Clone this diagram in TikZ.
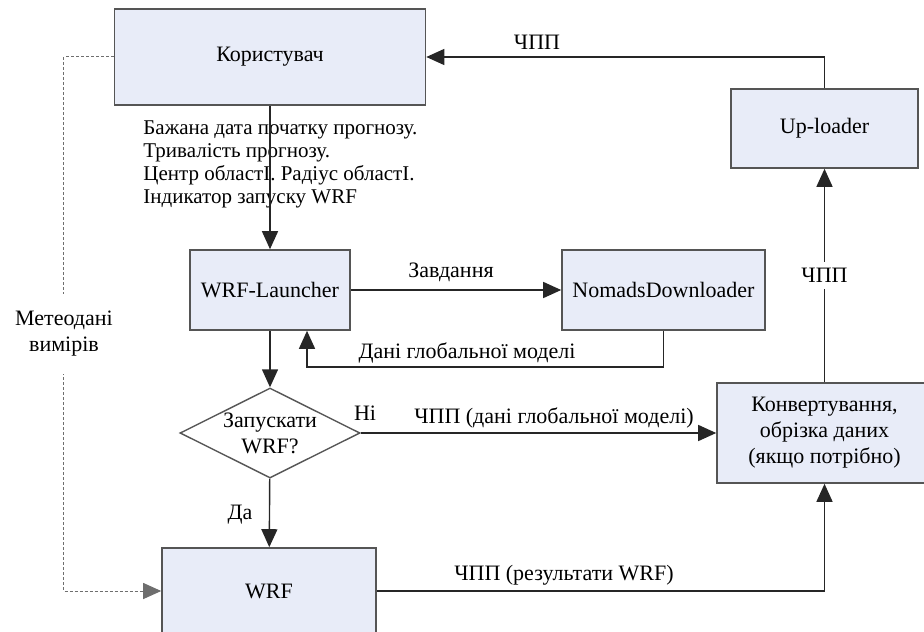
\documentclass[tikz,border=0pt]{standalone}
\usepackage{fontspec}
\setmainfont{Liberation Serif}
\usetikzlibrary{arrows.meta, shapes.geometric}
\definecolor{BoxFill}{RGB}{232, 236, 248}
\definecolor{BoxLine}{RGB}{85, 85, 85}
\definecolor{MetaGray}{RGB}{110, 110, 110}

\begin{document}
\begin{tikzpicture}[x=0.5pt, y=-0.5pt,
    block/.style={draw=BoxLine, fill=BoxFill, line width=0.8pt, align=center, inner sep=0pt,
      font=\fontsize{11}{13}\selectfont},
    choice/.style={draw=BoxLine, diamond, line width=0.7pt, inner sep=0pt,
      minimum width=90pt, minimum height=45pt},
    flow/.style={draw=black!85, line width=0.7pt, -{Triangle[length=9pt, width=8pt]}},
    meta/.style={draw=MetaGray, line width=0.5pt, dash pattern=on 1.5pt off 1pt,
      -{Triangle[length=9pt, width=8pt, fill=MetaGray]}},
    lbl/.style={font=\fontsize{11}{13}\selectfont, inner sep=1pt}]
    \useasboundingbox (0,0) rectangle (924,631);

    % Blocks
    \node[block, minimum width=155.5pt, minimum height=48pt] (user) at (270,57) {Користувач};
    \node[block, minimum width=93.5pt, minimum height=39.5pt] (uploader) at (824.5,128.5) {Up-loader};
    \node[block, minimum width=80pt, minimum height=40pt] (launcher) at (270,290) {WRF-Launcher};
    \node[block, minimum width=101.5pt, minimum height=40pt] (nomads) at (663.5,290) {NomadsDownloader};
    \node[block, minimum width=107.5pt, minimum height=50pt] (convert) at (824.5,433)
      {Конвертування,\\обрізка даних\\(якщо потрібно)};
    \node[block, minimum width=107pt, minimum height=43pt] (wrf) at (269,591) {WRF};
    \node[choice, label={[align=center, lbl]center:Запускати\\WRF?}] (decide) at (270,433) {};

    % Request text
    \node[anchor=north west, align=left, inner sep=0pt, font=\fontsize{10.5}{11.5}\selectfont] (request) at (143,120)
      {Бажана дата початку прогнозу.\\Тривалість прогнозу.\\Центр областІ. Радіус областІ.\\Індикатор запуску WRF};

    % Connectors
    \coordinate (back) at (307,367);
    \draw[flow] (user) -- (launcher);
    \draw[flow] (uploader.north) |- (user.east);
    \draw[flow] (launcher) -- (nomads);
    \draw[flow] (nomads.south) |- (back) -- (back |- launcher.south);
    \draw[flow] (launcher) -- (decide);
    \draw[flow] (decide.east) -- (convert.west);
    \draw[flow] (decide) -- (wrf);
    \draw[flow] (wrf.east) -| (convert.south);
    \draw[flow] (convert) -- node[lbl, fill=white, inner sep=3pt] (cppup) {ЧПП} (uploader);
    \draw[meta] (user.west) -- ++(-50,0) |- (wrf.west);

    % Labels
    \node[lbl] (cpptop) at (537,42) {ЧПП};
    \node[lbl] (task) at (451,272) {Завдання};
    \node[lbl] (global) at (467,353) {Дані глобальної моделі};
    \node[lbl] (no) at (365,413) {Ні};
    \node[lbl] (cppglobal) at (554,418) {ЧПП (дані глобальної моделі)};
    \node[lbl] (yes) at (240,515) {Да};
    \node[lbl] (cppwrf) at (564,575) {ЧПП (результати WRF)};
    \node[lbl, fill=white, align=center, inner sep=0pt, minimum height=40pt] (measure) at (64,334)
      {Метеодані\\вимірів};
\end{tikzpicture}
\end{document}
